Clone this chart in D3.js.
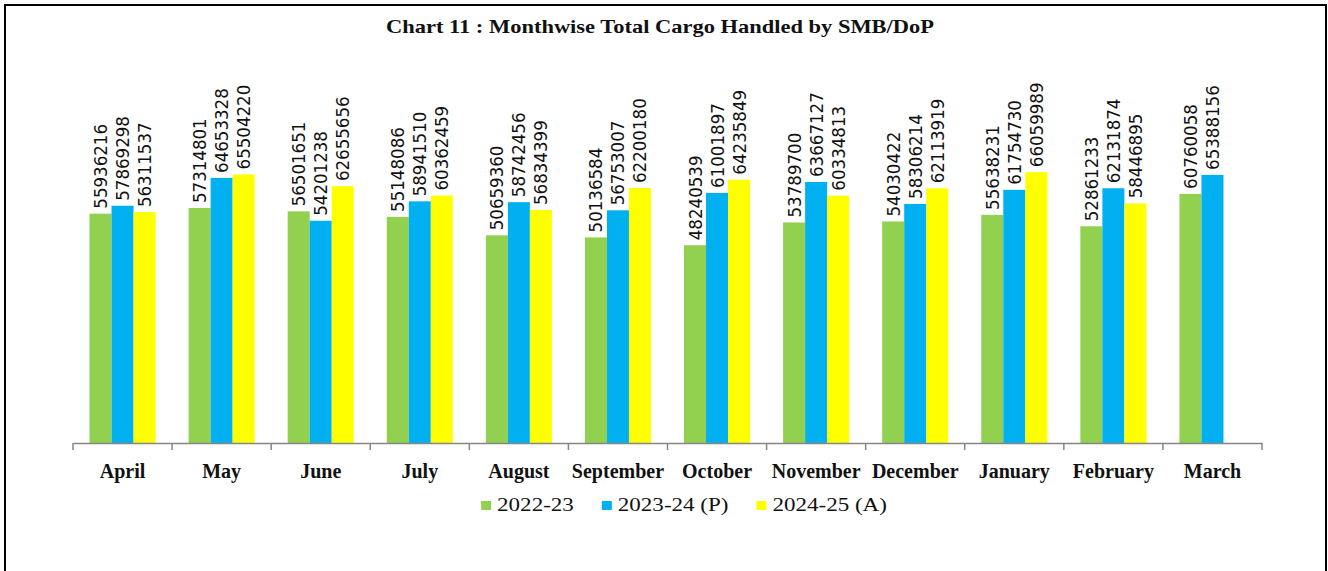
<!DOCTYPE html>
<html>
<head>
<meta charset="utf-8">
<script src="https://cdn.jsdelivr.net/npm/d3@7"></script>
<style>
  body { margin: 0; background: #fff; }
  .val { font-family: "Liberation Sans Narrow", "DejaVu Sans Condensed", sans-serif; font-size: 18.5px; fill: #111; }
  .cat { font-family: "Liberation Serif", serif; font-size: 20px; font-weight: bold; fill: #111; }
  .leg { font-family: "Liberation Serif", serif; font-size: 18px; fill: #111; }
  .title { font-family: "Liberation Serif", serif; font-size: 19px; font-weight: bold; fill: #111; }
</style>
</head>
<body>
<div id="chart"></div>
<script>
// data
var months = ["April", "May", "June", "July", "August", "September", "October",
              "November", "December", "January", "February", "March"];
var series = ["2022-23", "2023-24 (P)", "2024-25 (A)"];
var cargo2223 = [55936216, 57314801, 56501651, 55148086, 50659360, 50136584,
                 48240539, 53789700, 54030422, 55638231, 52861233, 60760058];
var cargo2324 = [57869298, 64653328, 54201238, 58941510, 58742456, 56753007,
                 61001897, 63667127, 58306214, 61754730, 62131874, 65388156];
var cargo2425 = [56311537, 65504220, 62655656, 60362459, 56834399, 62200180,
                 64235849, 60334813, 62113919, 66059989, 58446895, null];
var colors = ["#92D050", "#00B0F0", "#FFFF00"];

var W = 1328, H = 571;
var svg = d3.select("#chart").append("svg")
    .attr("width", W)
    .attr("height", H);

svg.append("rect").attr("width", W).attr("height", H).attr("fill", "#fff");
// outer frame (bottom edge runs off the picture)
svg.append("rect")
    .attr("x", 5).attr("y", 5)
    .attr("width", 1321).attr("height", 620)
    .attr("fill", "none").attr("stroke", "#000").attr("stroke-width", 2);

// title
svg.append("text")
    .attr("class", "title")
    .attr("x", 660).attr("y", 33)
    .attr("text-anchor", "middle")
    .attr("textLength", 548)
    .attr("lengthAdjust", "spacingAndGlyphs")
    .text("Chart 11 : Monthwise Total Cargo Handled by SMB/DoP");

// scales
var x = d3.scaleBand().domain(months).range([73, 1262]);
var bw = x.bandwidth();
var x1 = d3.scaleBand().domain(series).range([bw / 6, bw * 5 / 6]);
var y = d3.scaleLinear().domain([0, 80000000]).range([443, 115]);

// table for the bars
var rows = [];
months.forEach(function(m, i) {
  [cargo2223, cargo2324, cargo2425].forEach(function(arr, j) {
    if (arr[i] != null) rows.push({month: m, series: series[j], value: arr[i], color: colors[j]});
  });
});

var g = svg.append("g");

g.selectAll("rect.bar")
    .data(rows)
  .enter().append("rect")
    .attr("class", "bar")
    .attr("x", function(d) { return x(d.month) + x1(d.series); })
    .attr("y", function(d) { return y(d.value); })
    .attr("width", x1.bandwidth())
    .attr("height", function(d) { return y(0) - y(d.value); })
    .attr("fill", function(d) { return d.color; });

// value labels, rotated
g.selectAll("text.val")
    .data(rows)
  .enter().append("text")
    .attr("class", "val")
    .attr("transform", function(d) {
      var cx = x(d.month) + x1(d.series) + x1.bandwidth() / 2;
      return "translate(" + cx + "," + (y(d.value) - 5) + ") rotate(-90)";
    })
    .attr("dy", "0.35em")
    .text(function(d) { return d.value; });

// x axis
var axisG = svg.append("g")
    .attr("transform", "translate(0," + y(0) + ")")
    .call(d3.axisBottom(x).tickSize(0).tickPadding(0));
axisG.select(".domain").attr("stroke", "#868686").attr("stroke-width", 1.5);
axisG.selectAll(".tick text")
    .attr("class", "cat")
    .attr("y", 35)
    .attr("dy", 0);

// boundary ticks
var edges = months.map(function(m) { return x(m); }).concat([x.range()[1]]);
axisG.selectAll("line.edge")
    .data(edges)
  .enter().append("line")
    .attr("class", "edge")
    .attr("x1", function(d) { return d; })
    .attr("x2", function(d) { return d; })
    .attr("y1", 0).attr("y2", 7)
    .attr("stroke", "#868686").attr("stroke-width", 1.5);

// legend (text a little stretched, like the original)
var stretch = 1.28;
var legend = svg.append("g");
var items = legend.selectAll("g")
    .data(series)
  .enter().append("g");
items.append("rect")
    .attr("width", 10).attr("height", 9)
    .attr("y", -10)
    .attr("fill", function(d, i) { return colors[i]; });
items.append("text")
    .attr("class", "leg")
    .attr("transform", "translate(16,0) scale(" + stretch + ",1)")
    .text(function(d) { return d; });

var pos = 0;
items.each(function() {
  var tw = d3.select(this).select("text").node().getComputedTextLength() * stretch;
  d3.select(this).attr("transform", "translate(" + pos + ",0)");
  pos += 16 + tw + 28;
});
var total = pos - 28;
legend.attr("transform", "translate(" + (684 - total / 2) + ",511)");
</script>
</body>
</html>
